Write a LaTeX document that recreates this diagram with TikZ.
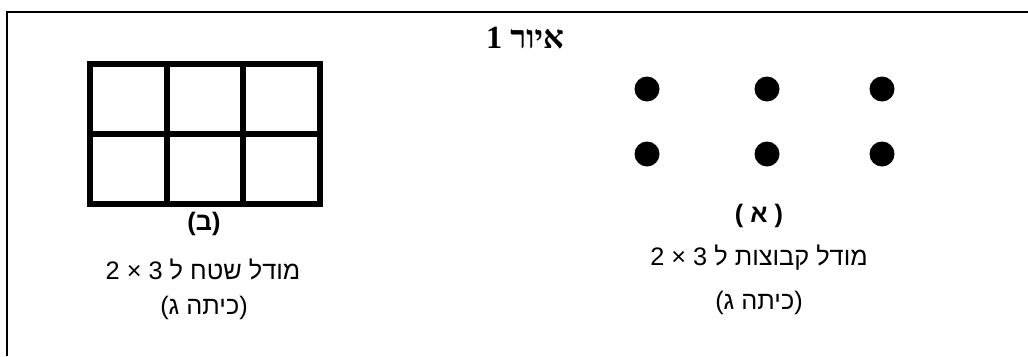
\documentclass[tikz,border=0pt]{standalone}
\usepackage{fontspec}
\setmainfont{Liberation Sans}
\newfontfamily\hebfont[Script=Hebrew]{Liberation Sans}
\newfontfamily\hebtitle[Script=Hebrew]{Liberation Serif}
\TeXXeTstate=1

\begin{document}
\begin{tikzpicture}[x=0.025cm,y=-0.025cm,
    rahmen/.style={line width=1.4pt},
    gitter/.style={line width=3.8pt},
    beschr/.style={font=\hebfont\fontsize{18}{21}\selectfont},
    marke/.style={font=\hebfont\bfseries\fontsize{18}{21}\selectfont},
    titel/.style={font=\hebtitle\bfseries\fontsize{23}{26}\selectfont}]

\useasboundingbox (0,0) rectangle (1028,356);

% Rahmen (nur links und oben)
\coordinate (RU) at (7,356);
\coordinate (RO) at (7,12);
\coordinate (RR) at (1028,12);
\draw[rahmen] (RU) -- (RO) -- (RR);

% Titel
\node[titel] (T) at (525,38) {\beginR איור 1\endR};

% Modell B: Rechteck 3 x 2
\coordinate (G1) at (90,64);
\coordinate (G2) at (320,204);
\draw[gitter] (G1) rectangle (G2);
\foreach \x in {167,243} \draw[gitter] (\x,64) -- (\x,204);
\draw[gitter] (90,134) -- (320,134);

% Modell A: Punkte 3 x 2
\foreach \x in {647,767,882}
  \foreach \y in {89,154}
    \fill (\x,\y) circle (12.5);

% Beschriftung A
\node[marke]  (LA) at (759,216) {\beginR( א )\endR};
\node[beschr] (TA) at (759,258) {\beginR מודל קבוצות ל 3 × 2\endR};
\node[beschr] (KA) at (759,303) {\beginR(כיתה ג)\endR};

% Beschriftung B
\node[marke]  (LB) at (204,224) {\beginR(ב)\endR};
\node[beschr] (TB) at (203,269) {\beginR מודל שטח ל 3 × 2\endR};
\node[beschr] (KB) at (204,308) {\beginR(כיתה ג)\endR};

\end{tikzpicture}
\end{document}
